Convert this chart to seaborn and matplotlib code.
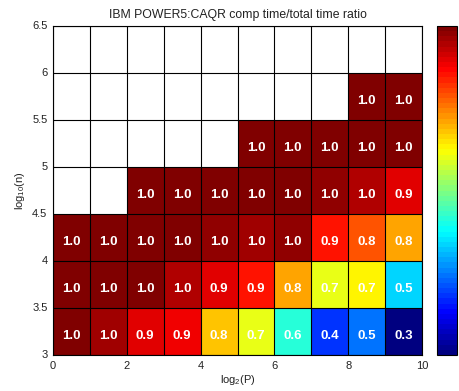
import numpy as np
import pandas as pd
import matplotlib
matplotlib.use("Agg")
import matplotlib.pyplot as plt
import seaborn as sns
from matplotlib.colors import LinearSegmentedColormap

# ---- data -------------------------------------------------------------
log2_p = [0, 1, 2, 3, 4, 5, 6, 7, 8, 9]            # left edge of each column
log10_n = [3.0, 3.5, 4.0, 4.5, 5.0, 5.5, 6.0]      # bottom edge of each row
nan = np.nan
row_300 = [0.995, 0.972, 0.922, 0.917, 0.774, 0.715, 0.586, 0.422, 0.456, 0.290]
row_350 = [0.995, 0.990, 0.984, 0.951, 0.928, 0.885, 0.786, 0.715, 0.738, 0.522]
row_400 = [0.995, 0.995, 0.995, 0.993, 0.978, 0.967, 0.978, 0.889, 0.841, 0.796]
row_450 = [nan, nan, 0.995, 0.995, 0.995, 0.990, 0.988, 0.977, 0.961, 0.928]
row_500 = [nan, nan, nan, nan, nan, 0.995, 0.994, 0.995, 0.987, 0.985]
row_550 = [nan, nan, nan, nan, nan, nan, nan, nan, 0.995, 0.995]
row_600 = [nan] * 10
y_tick_labels = ["6.5", "6", "5.5", "5", "4.5", "4", "3.5", "3"]
x_tick_values = [0, 2, 4, 6, 8, 10]
cbar_ticks = [0.4, 0.5, 0.6, 0.7, 0.8, 0.9]
title = "IBM POWER5:CAQR comp time/total time ratio"

rows_top_to_bottom = [row_600, row_550, row_500, row_450, row_400, row_350, row_300]
df = pd.DataFrame(rows_top_to_bottom, index=log10_n[::-1], columns=log2_p)

# ---- style ------------------------------------------------------------
sns.set_style("white")
plt.rcParams["font.family"] = ["Liberation Sans", "DejaVu Sans"]
plt.rcParams["mathtext.default"] = "regular"

jet = LinearSegmentedColormap.from_list(
    "matlab_jet",
    [(0.0, (0, 0, 0.5)), (1 / 8, (0, 0, 1)), (3 / 8, (0, 1, 1)),
     (5 / 8, (1, 1, 0)), (7 / 8, (1, 0, 0)), (1.0, (0.5, 0, 0))],
    N=64,
)

fig = plt.figure(figsize=(4.59, 3.91), dpi=100)
ax = fig.add_axes([53 / 459, 36 / 391, 369 / 459, 329 / 391])
cax = fig.add_axes([437 / 459, 36 / 391, 20 / 459, 329 / 391])

sns.heatmap(
    df, ax=ax, cmap=jet, vmin=0.29, vmax=0.995,
    annot=True, fmt=".1f",
    annot_kws=dict(color="white", fontsize=9.5, fontweight="bold"),
    cbar_ax=cax, linewidths=0,
)

# shift cell labels slightly below centre
for t in ax.texts:
    x, y = t.get_position()
    t.set_position((x, y + 0.1))

nrows, ncols = df.shape
ax.hlines(np.arange(nrows + 1), 0, ncols, colors="black", linewidth=0.8, zorder=3)
ax.vlines(np.arange(ncols + 1), 0, nrows, colors="black", linewidth=0.8, zorder=3)

ax.set_xticks(x_tick_values)
ax.set_xticklabels([str(v) for v in x_tick_values], rotation=0)
ax.set_yticks(np.arange(len(y_tick_labels)))
ax.set_yticklabels(y_tick_labels, rotation=0)
ax.tick_params(axis="both", length=0, labelsize=8, pad=4, colors="#222222")
for s in ax.spines.values():
    s.set_visible(True)
    s.set_color("black")
    s.set_linewidth(0.8)

ax.set_xlabel("log$_2$(P)", fontsize=8, labelpad=2, color="#222222")
ax.set_ylabel("log$_{10}$(n)", fontsize=8, labelpad=4, color="#222222")
ax.set_title(title, fontsize=8.8, pad=6, color="#222222")

cb = ax.collections[0].colorbar
cb.outline.set_linewidth(0.8)
cb.outline.set_edgecolor("black")
cb.set_ticks(cbar_ticks)
cb.set_ticklabels([""] * len(cbar_ticks))
cax.tick_params(direction="in", length=3, width=0.8, left=True, right=True,
                colors="black")

fig.savefig("out.png", dpi=100)
